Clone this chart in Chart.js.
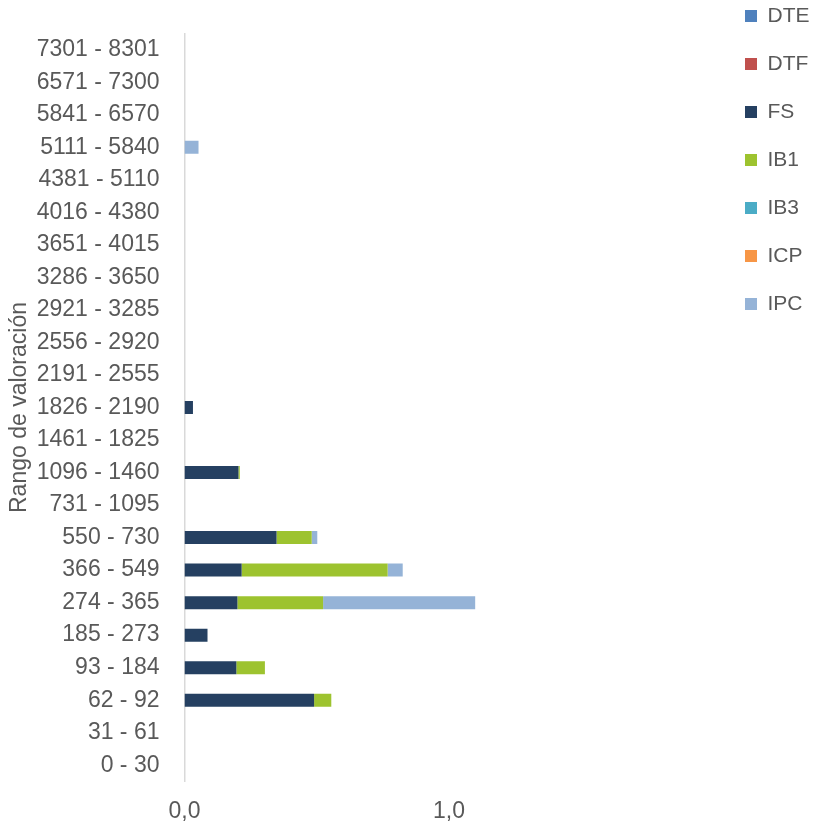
<!DOCTYPE html>
<html>
<head>
<meta charset="utf-8">
<script src="https://cdn.jsdelivr.net/npm/chart.js@4/dist/chart.umd.min.js"></script>
<style>
  html, body { margin: 0; padding: 0; background: #ffffff; }
  canvas { display: block; }
</style>
</head>
<body>
<canvas id="c" width="813" height="825"></canvas>
<script>
// Categories, top to bottom
const categories = [
  '7301 - 8301', '6571 - 7300', '5841 - 6570', '5111 - 5840', '4381 - 5110',
  '4016 - 4380', '3651 - 4015', '3286 - 3650', '2921 - 3285', '2556 - 2920',
  '2191 - 2555', '1826 - 2190', '1461 - 1825', '1096 - 1460', '731 - 1095',
  '550 - 730', '366 - 549', '274 - 365', '185 - 273', '93 - 184',
  '62 - 92', '31 - 61', '0 - 30'
];

const seriesNames = ['DTE', 'DTF', 'FS', 'IB1', 'IB3', 'ICP', 'IPC'];

const DTE = [0,0,0,0,0, 0,0,0,0,0, 0,0,0,0,0, 0,0,0,0,0, 0,0,0];
const DTF = [0,0,0,0,0, 0,0,0,0,0, 0,0,0,0,0, 0,0,0,0,0, 0,0,0];
const FS  = [0,0,0,0,0, 0,0,0,0,0, 0,0.032,0,0.204,0, 0.348,0.216,0.200,0.087,0.196, 0.490,0,0];
const IB1 = [0,0,0,0,0, 0,0,0,0,0, 0,0,0,0.005,0, 0.133,0.552,0.324,0,0.108, 0.065,0,0];
const IB3 = [0,0,0,0,0, 0,0,0,0,0, 0,0,0,0,0, 0,0,0,0,0, 0,0,0];
const ICP = [0,0,0,0,0, 0,0,0,0,0, 0,0,0,0,0, 0,0,0,0,0, 0,0,0];
const IPC = [0,0,0,0.053,0, 0,0,0,0,0, 0,0,0,0,0, 0.021,0.057,0.575,0,0, 0,0,0];

const xTickValues = [0, 1];
const xTickLabels = ['0,0', '1,0'];

const seriesData = [DTE, DTF, FS, IB1, IB3, ICP, IPC];
const seriesColors = ['#4F81BD', '#C0504D', '#254061', '#9DC32F', '#4BACC6', '#F79646', '#95B3D7'];

const textColor = '#595959';
const fontFamily = '"Liberation Sans", Arial, sans-serif';

const legendShift = {
  id: 'legendShift',
  afterLayout(chart) {
    const l = chart.legend;
    if (!l) return;
    const pad = l.options.labels.padding;
    const dx = 745 - (l.left + pad);
    const dy = 5.5 - (l.top + pad);
    l.left += dx; l.right += dx;
    l.top += dy; l.bottom += dy;
  }
};

new Chart(document.getElementById('c'), {
  type: 'bar',
  data: {
    labels: categories,
    datasets: seriesNames.map((name, i) => ({
      label: name,
      data: seriesData[i],
      backgroundColor: seriesColors[i],
      borderWidth: 0,
      barPercentage: 0.4,
      categoryPercentage: 1.0
    }))
  },
  options: {
    indexAxis: 'y',
    responsive: false,
    animation: false,
    layout: { padding: { top: 33.5, left: 0, right: -2, bottom: 0 } },
    plugins: {
      legend: {
        position: 'right',
        align: 'start',
        labels: {
          boxWidth: 12,
          boxHeight: 12,
          padding: 27,
          color: textColor,
          font: { family: fontFamily, size: 21 }
        }
      },
      tooltip: { enabled: false }
    },
    scales: {
      x: {
        stacked: true,
        min: 0,
        max: 2,
        grid: { display: false, drawTicks: false },
        border: { display: false },
        afterFit(s) { s.height = 43.5; s.paddingLeft = 0; s.paddingRight = 0; },
        afterBuildTicks(s) { s.ticks = xTickValues.map(v => ({ value: v })); },
        ticks: {
          padding: 16,
          color: textColor,
          font: { family: fontFamily, size: 23 },
          callback: (v) => xTickLabels[xTickValues.indexOf(v)]
        }
      },
      y: {
        stacked: true,
        grid: { display: false, drawTicks: false },
        border: { display: true, color: '#D9D9D9', width: 1.5 },
        afterFit(s) { s.width = 184.5; s.paddingTop = 0; s.paddingBottom = 0; },
        ticks: {
          autoSkip: false,
          padding: 25,
          color: textColor,
          font: { family: fontFamily, size: 23 }
        },
        title: {
          display: true,
          text: 'Rango de valoración',
          color: textColor,
          padding: { top: 6, bottom: 0 },
          font: { family: fontFamily, size: 23 }
        }
      }
    }
  },
  plugins: [legendShift]
});
</script>
</body>
</html>
